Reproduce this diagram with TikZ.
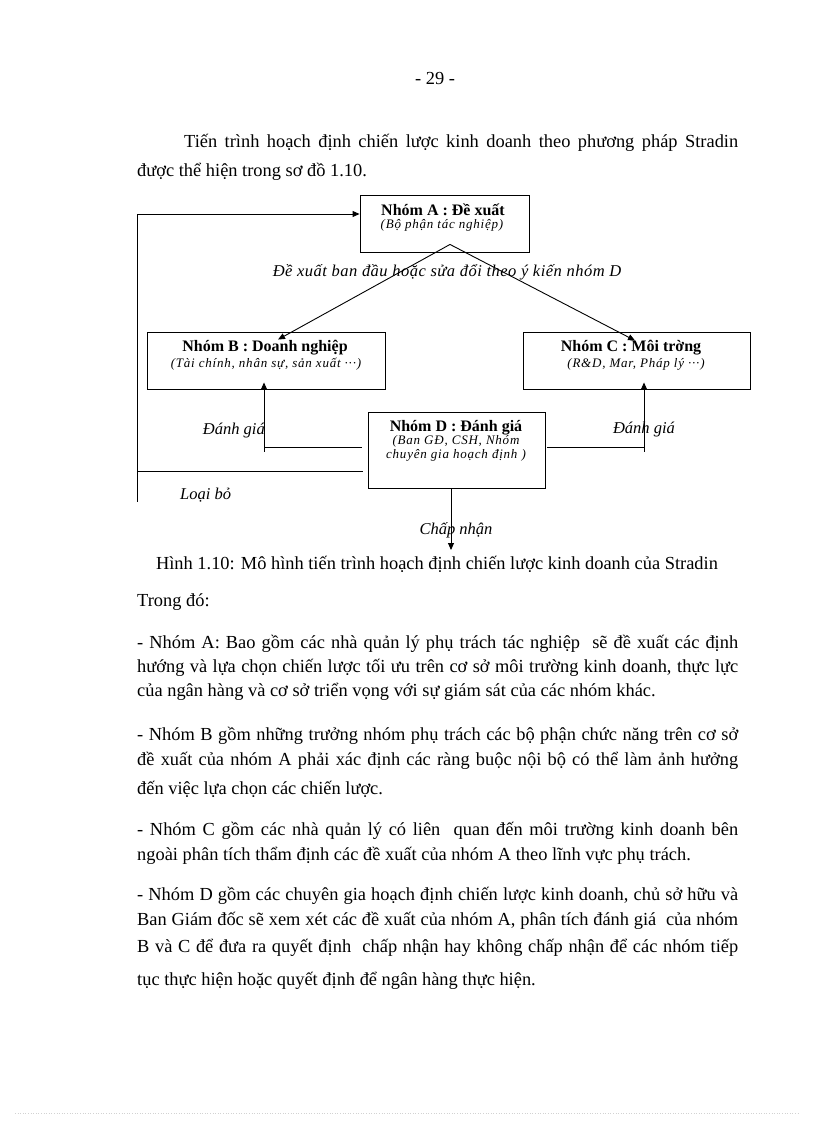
\documentclass[tikz,border=0pt]{standalone}
\usepackage{fontspec}
\setmainfont{Liberation Serif}
\usetikzlibrary{arrows.meta}
\begin{document}
\begin{tikzpicture}[x=1pt,y=-1pt,
  box/.style={draw, line width=0.9pt, inner sep=0pt},
  ttl/.style={anchor=base, inner sep=0pt, font=\fontsize{16}{18}\selectfont\bfseries},
  subtxt/.style={anchor=base, inner sep=0pt, font=\fontsize{13}{15}\selectfont\itshape\addfontfeature{LetterSpace=6}},
  lbl/.style={anchor=base, inner sep=0pt, font=\fontsize{16.5}{18}\selectfont\itshape},
  bodytxt/.style={anchor=base west, inner sep=0pt, font=\fontsize{18.4}{22}\selectfont},
  conn/.style={line width=0.9pt},
  arr/.style={conn, -{Triangle[length=7pt,width=6pt]}}
]
\useasboundingbox (0,0) rectangle (816,1123);

% page number and intro
\node[anchor=base, inner sep=0pt, font=\fontsize{18.4}{22}\selectfont] (pg) at (435,85) {- 29 -};
\node[bodytxt] (t1) at (184,148) {\makebox[554pt][s]{Tiến trình hoạch định chiến lược kinh doanh theo phương pháp Stradin}};
\node[bodytxt] (t2) at (137,177) {được thể hiện trong sơ đồ 1.10.};

% boxes
\node[box, minimum width=169, minimum height=57] (A) at (444.5,223.5) {};
\node[ttl] (At) at (443,215.5) {Nhóm A : Đề xuất};
\node[subtxt] (As) at (442,228.5) {(Bộ phận tác nghiệp)};

\node[box, minimum width=238, minimum height=57] (B) at (266,360.5) {};
\node[ttl] (Bt) at (265,351.5) {Nhóm B : Doanh nghiệp};
\node[subtxt] (Bs) at (266,367.5) {(Tài chính, nhân sự, sản xuất ···)};

\node[box, minimum width=227, minimum height=57] (C) at (636.5,360.5) {};
\node[ttl] (Ct) at (631,351.5) {Nhóm C : Môi trờng};
\node[subtxt] (Cs) at (636,367.5) {(R\&D, Mar, Pháp lý ···)};

\node[box, minimum width=177, minimum height=76] (D) at (456.5,450) {};
\node[ttl] (Dt) at (456,431.5) {Nhóm D : Đánh giá};
\node[subtxt] (Ds1) at (456,444.5) {(Ban GĐ, CSH, Nhóm};
\node[subtxt] (Ds2) at (456,458) {chuyên gia hoạch định )};

% connectors from A
\draw[arr] ([shift={(5.5,-8)}]A.south) -- ([shift={(12,8)}]B.north);
\draw[arr] ([shift={(5.5,-8)}]A.south) -- ([shift={(-1.5,9)}]C.north);
\node[lbl, font=\fontsize{16.5}{18}\selectfont\itshape\addfontfeature{LetterSpace=3}] (Lp) at (447,276) {Đề xuất ban đầu hoặc sửa đổi theo ý kiến nhóm D};

% evaluation arrows
\draw[arr] ([shift={(-6,-3)}]D.west) -| ([shift={(-2,-7)}]B.south);
\draw[conn] ([shift={(-2,58)}]B.south) -- ([shift={(-2,63)}]B.south);
\node[lbl, anchor=base east] (Le1) at (265,434) {Đánh giá};

\draw[arr] ([shift={(2,-3)}]D.east) -| ([shift={(7.5,-7)}]C.south);
\draw[conn] ([shift={(7.5,58)}]C.south) -- ([shift={(7.5,63)}]C.south);
\node[lbl] (Le2) at (644,433) {Đánh giá};

% reject loop
\coordinate (lb) at (137,471);
\coordinate (lt) at (137,214);
\coordinate (lend) at (137,502);
\draw[arr] ([shift={(-5,21)}]D.west) -- (lb) -- (lt) -- ([shift={(0,-9.5)}]A.west);
\draw[conn] (lb) -- (lend);
\node[lbl, anchor=base west] (Lr) at (180,499) {Loại bỏ};

% accept
\coordinate (acc) at (451,550);
\draw[arr] ([shift={(-5.5,0)}]D.south) -- (acc);
\node[lbl] (La) at (456,534) {Chấp nhận};

% caption
\node[anchor=base, inner sep=0pt, font=\fontsize{18.4}{22}\selectfont] (cap) at (437,569) {Hình 1.10: Mô hình tiến trình hoạch định chiến lược kinh doanh của Stradin};

% body text
\node[bodytxt] (tr) at (137,606) {Trong đó:};
\node[bodytxt] (a1) at (137,648) {\makebox[601pt][s]{- Nhóm A: Bao gồm các nhà quản lý phụ trách tác nghiệp\ \ sẽ đề xuất các định}};
\node[bodytxt] (a2) at (137,672) {\makebox[601pt][s]{hướng và lựa chọn chiến lược tối ưu trên cơ sở môi trường kinh doanh, thực lực}};
\node[bodytxt] (a3) at (137,696) {của ngân hàng và cơ sở triển vọng với sự giám sát của các nhóm khác.};

\node[bodytxt] (b1) at (137,740) {\makebox[601pt][s]{- Nhóm B gồm những trưởng nhóm phụ trách các bộ phận chức năng trên cơ sở}};
\node[bodytxt] (b2) at (137,765) {\makebox[601pt][s]{đề xuất của nhóm A phải xác định các ràng buộc nội bộ có thể làm ảnh hưởng}};
\node[bodytxt] (b3) at (137,794) {đến việc lựa chọn các chiến lược.};

\node[bodytxt] (c1) at (137,835) {\makebox[601pt][s]{- Nhóm C gồm các nhà quản lý có liên\ \ quan đến môi trường kinh doanh bên}};
\node[bodytxt] (c2) at (137,860) {ngoài phân tích thẩm định các đề xuất của nhóm A theo lĩnh vực phụ trách.};

\node[bodytxt] (d1) at (137,900) {\makebox[601pt][s]{- Nhóm D gồm các chuyên gia hoạch định chiến lược kinh doanh, chủ sở hữu và}};
\node[bodytxt] (d2) at (137,925) {\makebox[601pt][s]{Ban Giám đốc sẽ xem xét các đề xuất của nhóm A, phân tích đánh giá\ \ của nhóm}};
\node[bodytxt] (d3) at (137,952) {\makebox[601pt][s]{B và C để đưa ra quyết định\ \ chấp nhận hay không chấp nhận để các nhóm tiếp}};
\node[bodytxt] (d4) at (137,985) {tục thực hiện hoặc quyết định để ngân hàng thực hiện.};

% faint dotted rule at page foot
\draw[gray!35, dotted, line width=0.6pt] (15,1113) -- (800,1113);
\end{tikzpicture}
\end{document}
